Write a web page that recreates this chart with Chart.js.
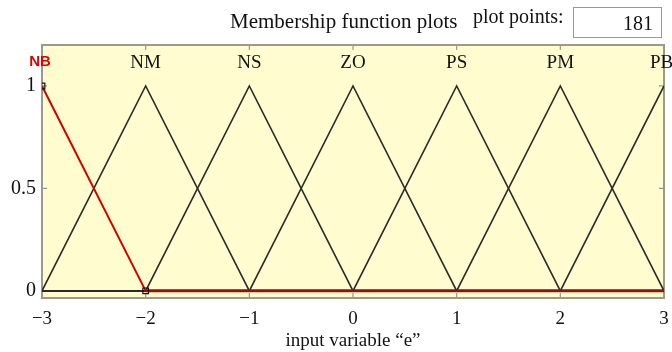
<!DOCTYPE html>
<html>
<head>
<meta charset="utf-8">
<script src="https://cdn.jsdelivr.net/npm/chart.js@4"></script>
<style>
  html, body { margin: 0; padding: 0; background: #fff; }
  #wrap { position: relative; width: 672px; height: 352px; }
  .txt { position: absolute; font-family: "Liberation Serif", serif; color: #111; white-space: nowrap; }
  #pts { position: absolute; left: 573px; top: 7px; width: 89px; height: 31px; border: 1.5px solid #8a9bb0;
         box-sizing: border-box; font-family: "Liberation Serif", serif; font-size: 20px; text-align: right;
         padding-right: 8px; line-height: 30px; color: #111; }
</style>
</head>
<body>
<div id="wrap">
  <canvas id="mf" width="672" height="352"></canvas>
  <div class="txt" style="left:230px; top:9px; font-size:21px;">Membership function plots</div>
  <div class="txt" style="left:473px; top:5px; font-size:20px;">plot points:</div>
  <div id="pts">181</div>
</div>
<script>
// seven triangular sets over the universe [-3, 3]
const mfNames = ['NB', 'NM', 'NS', 'ZO', 'PS', 'PM', 'PB'];
const mfCenters = [-3, -2, -1, 0, 1, 2, 3];
const xTicks = [-3, -2, -1, 0, 1, 2, 3];
const yTicks = [0, 0.5, 1];

// breakpoints of each set: [x, membership]
const nbPts = [[-3, 1], [-2, 0], [3, 0]];
const nmPts = [[-3, 0], [-2, 1], [-1, 0], [3, 0]];
const nsPts = [[-3, 0], [-2, 0], [-1, 1], [0, 0], [3, 0]];
const zoPts = [[-3, 0], [-1, 0], [0, 1], [1, 0], [3, 0]];
const psPts = [[-3, 0], [0, 0], [1, 1], [2, 0], [3, 0]];
const pmPts = [[-3, 0], [1, 0], [2, 1], [3, 0]];
const pbPts = [[-3, 0], [2, 0], [3, 1]];

const toXY = pts => pts.map(p => ({ x: p[0], y: p[1] }));

const blackSet = pts => ({
  data: toXY(pts),
  borderColor: '#2a2a2a',
  borderWidth: 1.6,
  pointRadius: 0,
  tension: 0,
  order: 1,
});

const datasets = [nmPts, nsPts, zoPts, psPts, pmPts, pbPts].map(blackSet);
// selected set goes on top, in red, with handles at its corners
datasets.push({
  data: toXY(nbPts),
  borderColor: '#d00000',
  borderWidth: 2,
  segment: {
    borderColor: ctx => ctx.p0DataIndex === 0 ? '#d00000' : '#8e1212',
    borderWidth: ctx => ctx.p0DataIndex === 0 ? 2 : 3,
  },
  pointStyle: 'rect',
  pointRadius: ctx => ctx.dataIndex < 2 ? 4 : 0,
  pointBackgroundColor: 'rgba(0,0,0,0)',
  pointBorderColor: '#111',
  pointBorderWidth: 1.2,
  tension: 0,
  order: 0,
});

const serif = { family: '"Liberation Serif", serif', size: 19 };

const plotBg = {
  id: 'plotBg',
  beforeDraw(chart) {
    const { ctx, chartArea: a } = chart;
    ctx.save();
    ctx.fillStyle = '#fffdcf';
    ctx.fillRect(a.left, a.top, a.right - a.left, a.bottom - a.top);
    ctx.restore();
  }
};

const frame = {
  id: 'frame',
  beforeDatasetsDraw(chart) {
    const { ctx, chartArea: a, scales } = chart;
    ctx.save();
    ctx.strokeStyle = '#9a9a8a';
    ctx.lineWidth = 2;
    ctx.strokeRect(a.left, a.top, a.right - a.left, a.bottom - a.top);
    // inward tick marks
    ctx.lineWidth = 1.2;
    ctx.beginPath();
    xTicks.forEach(v => {
      const px = scales.x.getPixelForValue(v);
      ctx.moveTo(px, a.top); ctx.lineTo(px, a.top + 5);
      ctx.moveTo(px, a.bottom); ctx.lineTo(px, a.bottom - 5);
    });
    yTicks.forEach(v => {
      const py = scales.y.getPixelForValue(v);
      ctx.moveTo(a.left, py); ctx.lineTo(a.left + 5, py);
      ctx.moveTo(a.right, py); ctx.lineTo(a.right - 5, py);
    });
    ctx.stroke();
    ctx.restore();
  },
  afterDatasetsDraw(chart) {
    const { ctx, scales } = chart;
    ctx.save();
    ctx.textBaseline = 'middle';
    const py = scales.y.getPixelForValue(1.11);
    mfNames.forEach((name, i) => {
      const px = scales.x.getPixelForValue(mfCenters[i]);
      if (i === 0) {
        ctx.fillStyle = '#e00000';
        ctx.font = 'bold 15px "Liberation Sans", sans-serif';
        ctx.textAlign = 'center';
        ctx.fillText(name, px - 2, py - 2);
      } else {
        ctx.fillStyle = '#111';
        ctx.font = '19px "Liberation Serif", serif';
        ctx.textAlign = i === mfNames.length - 1 ? 'left' : 'center';
        ctx.fillText(name, i === mfNames.length - 1 ? px - 14 : px, py);
      }
    });
    ctx.restore();
  }
};

new Chart(document.getElementById('mf'), {
  type: 'line',
  data: { datasets },
  plugins: [plotBg, frame],
  options: {
    responsive: false,
    animation: false,
    layout: { padding: { top: 45, right: 8, left: 0, bottom: 0 } },
    plugins: {
      legend: { display: false },
      tooltip: { enabled: false },
      title: { display: false },
    },
    scales: {
      x: {
        type: 'linear',
        min: -3,
        max: 3,
        afterBuildTicks: s => { s.ticks = xTicks.map(v => ({ value: v })); },
        afterFit: s => { s.height = 352 - 45 - 253; },
        ticks: {
          font: serif,
          color: '#111',
          padding: 2,
          maxRotation: 0,
          callback: v => String(v).replace('-', '\u2212'),
        },
        grid: { display: false },
        border: { display: false },
        title: {
          display: true,
          text: 'input variable \u201ce\u201d',
          font: serif,
          color: '#111',
          padding: { top: 0, bottom: 0 },
        },
      },
      y: {
        min: -0.035,
        max: 1.2,
        afterBuildTicks: s => { s.ticks = yTicks.map(v => ({ value: v })); },
        afterFit: s => { s.width = 42; },
        ticks: {
          font: { family: '"Liberation Serif", serif', size: 20 },
          color: '#111',
          padding: -2,
          callback: v => String(v),
        },
        grid: { display: false },
        border: { display: false },
      },
    },
  },
});
</script>
</body>
</html>
